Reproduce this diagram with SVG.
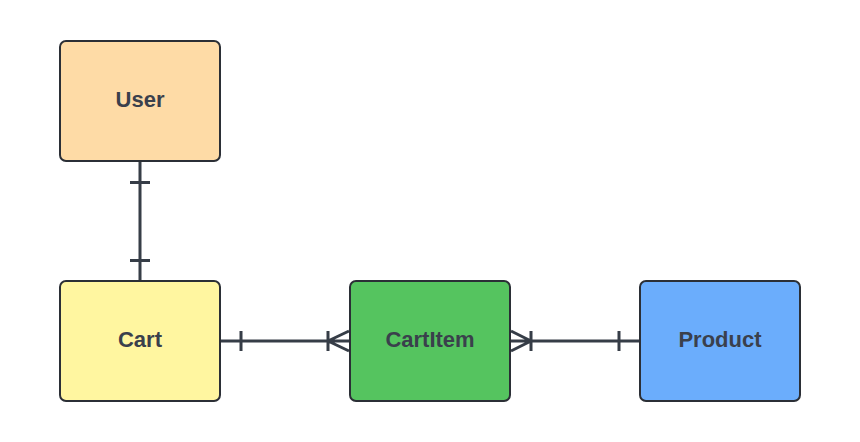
<svg xmlns="http://www.w3.org/2000/svg" width="860" height="442" viewBox="0 0 860 442">
<style>
.node rect{stroke:#2b2f36;stroke-width:2}
.node text{font-family:"Liberation Sans",Arial,sans-serif;font-size:22px;font-weight:bold;fill:#3a404c;text-anchor:middle;dominant-baseline:central}
.conn path{fill:none;stroke:#363d47;stroke-width:3}
</style>
<rect width="860" height="442" fill="#ffffff"/>
<g class="conn" id="connectors">
<path d="M140 161V281M130 182.5H150M130 260.5H150"/>
<path d="M220 341H350M241 331V351M328 331V351M328 341L349 331M328 341L349 351"/>
<path d="M510 341H640M531 331V351M619 331V351M531 341L511 331M531 341L511 351"/>
</g>
<g class="node" id="user"><rect x="60" y="41" width="160" height="120" rx="6" fill="#fedba6"/><text x="140" y="99.5">User</text></g>
<g class="node" id="cart"><rect x="60" y="281" width="160" height="120" rx="6" fill="#fff6a0"/><text x="140" y="339.5">Cart</text></g>
<g class="node" id="cartitem"><rect x="350" y="281" width="160" height="120" rx="6" fill="#55c45f"/><text x="430" y="339.5">CartItem</text></g>
<g class="node" id="product"><rect x="640" y="281" width="160" height="120" rx="6" fill="#6badfc"/><text x="720" y="339.5">Product</text></g>
</svg>
